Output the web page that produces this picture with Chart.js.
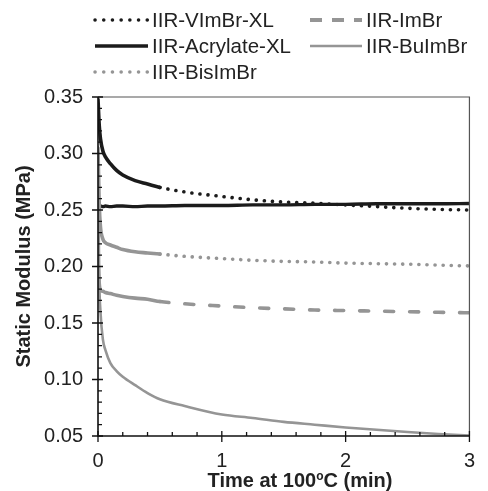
<!DOCTYPE html>
<html>
<head>
<meta charset="utf-8">
<script src="https://cdn.jsdelivr.net/npm/chart.js@4/dist/chart.umd.min.js"></script>
<style>
html, body { margin: 0; padding: 0; background: #fff; }
#wrap { position: relative; width: 488px; height: 491px; font-family: "Liberation Sans", Arial, Helvetica, sans-serif; color: #222; }
#wrap canvas { position: absolute; left: 0; top: 0; }
.lg { position: absolute; height: 22px; font-size: 20.5px; line-height: 22px; display: flex; align-items: center; white-space: nowrap; }
.lg svg { margin-right: 2px; }
#xtitle { position: absolute; left: 200px; width: 200px; top: 470px; text-align: center; font-size: 20px; font-weight: bold; line-height: 20px; white-space: nowrap; }
#xtitle sup { font-size: 12px; vertical-align: 7px; line-height: 0; }
</style>
</head>
<body>
<div id="wrap">
  <canvas id="chart" width="488" height="491"></canvas>
  <div id="legend"></div>
  <div id="xtitle">Time at 100<sup>o</sup>C (min)</div>
</div>
<script>
// Static modulus vs time at 100 °C, five IIR ionomers

// ── data ──────────────────────────────────────────────────────────────────────
const times      = [0, 0.01, 0.02, 0.04, 0.06, 0.1, 0.15, 0.2, 0.3, 0.4, 0.5, 0.7, 1.0, 1.25, 1.5, 1.75, 2.0, 2.25, 2.5, 2.75, 3.0];
const vimbrXL    = [0.348, 0.325, 0.313, 0.302, 0.297, 0.291, 0.285, 0.281, 0.276, 0.273, 0.270, 0.266, 0.262, 0.259, 0.257, 0.256, 0.2545, 0.253, 0.2515, 0.2505, 0.250];
const acrylateXL = [0.2535, 0.2530, 0.2535, 0.2530, 0.2535, 0.2530, 0.2535, 0.2535, 0.2530, 0.2535, 0.2535, 0.2540, 0.2540, 0.2545, 0.2545, 0.2550, 0.2550, 0.2555, 0.2555, 0.2555, 0.2558];
const bisImBr    = [0.305, 0.255, 0.235, 0.224, 0.221, 0.219, 0.217, 0.215, 0.213, 0.212, 0.211, 0.209, 0.207, 0.2055, 0.2045, 0.204, 0.203, 0.2025, 0.202, 0.2012, 0.2005];
const imBr       = [0.205, 0.185, 0.179, 0.178, 0.177, 0.176, 0.1745, 0.1735, 0.172, 0.171, 0.169, 0.167, 0.165, 0.1635, 0.1625, 0.1615, 0.161, 0.1605, 0.160, 0.1595, 0.159];
const buImBr     = [0.300, 0.190, 0.160, 0.135, 0.126, 0.1145, 0.1075, 0.1025, 0.095, 0.088, 0.0825, 0.0765, 0.069, 0.066, 0.0625, 0.060, 0.0575, 0.0555, 0.0535, 0.0518, 0.0505];

const xTicks = [0, 1, 2, 3];
const yTicks = [0.05, 0.10, 0.15, 0.20, 0.25, 0.30, 0.35];

const BLACK = '#1b1b1b';
const GREY  = '#959595';
const DOT   = [0.1, 8];
const DASH  = [9, 16];

// ── helpers ───────────────────────────────────────────────────────────────────
function pts(values) {
    return times.map((t, i) => ({ x: t, y: values[i] }));
}

// early part of each trace is dense raw data, so it reads as a solid line
function lateDash(pattern, from) {
    return ctx => ctx.p0.parsed.x >= from ? pattern : undefined;
}

function series(label, values, color, width, pattern, from) {
    return {
        label,
        data: pts(values),
        borderColor: color,
        borderWidth: width,
        borderCapStyle: 'round',
        borderJoinStyle: 'round',
        pointRadius: 0,
        cubicInterpolationMode: 'monotone',
        segment: pattern ? { borderDash: lateDash(pattern, from) } : {},
    };
}

// ── legend (html, two columns like the original) ──────────────────────────────
const legendItems = [
    { label: 'IIR-VImBr-XL',     color: BLACK, width: 3.5, dash: '0.1 8.6', x: 93,  y: 20 },
    { label: 'IIR-ImBr',         color: GREY,  width: 4,   dash: '12 10',   x: 308, y: 20 },
    { label: 'IIR-Acrylate-XL',  color: BLACK, width: 3.5, dash: '',        x: 93,  y: 46 },
    { label: 'IIR-BuImBr',       color: GREY,  width: 2.5, dash: '',        x: 308, y: 46 },
    { label: 'IIR-BisImBr',      color: GREY,  width: 3.5, dash: '0.1 8.6', x: 93,  y: 72 },
];

document.getElementById('legend').innerHTML = legendItems.map(it => {
    const w = it.x < 200 ? 57 : 56;
    const cap = it.dash && it.dash.startsWith('0.1') ? 'round' : 'butt';
    return `<div class="lg" style="left:${it.x}px;top:${it.y - 11}px">
        <svg width="${w}" height="10"><line x1="2" y1="5" x2="${w - 2}" y2="5" stroke="${it.color}"
            stroke-width="${it.width}" stroke-linecap="${cap}" ${it.dash ? `stroke-dasharray="${it.dash}"` : ''}/></svg>
        <span>${it.label}</span></div>`;
}).join('');

// ── axis frame + ticks (major cross the axis, minor point inward) ─────────────
const axisFrame = {
    id: 'axisFrame',
    afterDraw(chart) {
        const { ctx, chartArea: a, scales: { x, y } } = chart;
        ctx.save();
        ctx.lineCap = 'butt';
        ctx.strokeStyle = '#555';
        ctx.lineWidth = 1.2;
        ctx.beginPath();
        ctx.moveTo(a.left, a.top); ctx.lineTo(a.right, a.top); ctx.lineTo(a.right, a.bottom);
        ctx.stroke();

        ctx.strokeStyle = '#111';
        ctx.lineWidth = 1.6;
        ctx.beginPath();
        ctx.moveTo(a.left, a.top); ctx.lineTo(a.left, a.bottom); ctx.lineTo(a.right, a.bottom);
        ctx.stroke();

        ctx.lineWidth = 1.3;
        ctx.beginPath();
        for (let i = 0; i <= 30; i++) {
            const py = y.getPixelForValue(0.05 + i * 0.01);
            const major = i % 5 === 0;
            ctx.moveTo(a.left - (major ? 6 : 0), py);
            ctx.lineTo(a.left + (major ? 5 : 4), py);
        }
        for (let i = 0; i <= 15; i++) {
            const px = x.getPixelForValue(i * 0.2);
            const major = i % 5 === 0;
            ctx.moveTo(px, a.bottom + (major ? 6 : 0));
            ctx.lineTo(px, a.bottom - (major ? 5 : 4));
        }
        ctx.stroke();
        ctx.restore();
    }
};

// ── chart ─────────────────────────────────────────────────────────────────────
new Chart(document.getElementById('chart'), {
    type: 'line',
    data: {
        datasets: [
            series('IIR-BuImBr', buImBr, GREY, 2.6),
            series('IIR-ImBr', imBr, GREY, 3.6, DASH, 0.5),
            series('IIR-BisImBr', bisImBr, GREY, 3.6, DOT, 0.5),
            series('IIR-Acrylate-XL', acrylateXL, BLACK, 3.4),
            series('IIR-VImBr-XL', vimbrXL, BLACK, 3.6, DOT, 0.45),
        ]
    },
    options: {
        responsive: false,
        animation: false,
        layout: { padding: { top: 97, right: 8, left: 0, bottom: 0 } },
        plugins: { legend: { display: false }, tooltip: { enabled: false } },
        scales: {
            x: {
                type: 'linear',
                min: 0, max: 3,
                afterFit: s => { s.height = 55; },
                afterBuildTicks: s => { s.ticks = xTicks.map(v => ({ value: v })); },
                ticks: { color: '#222', padding: 13, font: { family: 'Liberation Sans', size: 20 }, callback: v => String(v) },
                grid: { display: false, drawTicks: false, tickLength: 0 },
                border: { display: false },
            },
            y: {
                min: 0.05, max: 0.35,
                afterFit: s => { s.width = 98; },
                afterBuildTicks: s => { s.ticks = yTicks.map(v => ({ value: v })); },
                ticks: { color: '#222', padding: 15, font: { family: 'Liberation Sans', size: 20 }, callback: v => v.toFixed(2) },
                grid: { display: false, drawTicks: false, tickLength: 0 },
                border: { display: false },
                title: {
                    display: true,
                    text: 'Static Modulus (MPa)',
                    color: '#222',
                    padding: { top: 12, bottom: 0 },
                    font: { family: 'Liberation Sans', size: 20, weight: 'bold' },
                },
            },
        },
    },
    plugins: [axisFrame],
});
</script>
</body>
</html>
